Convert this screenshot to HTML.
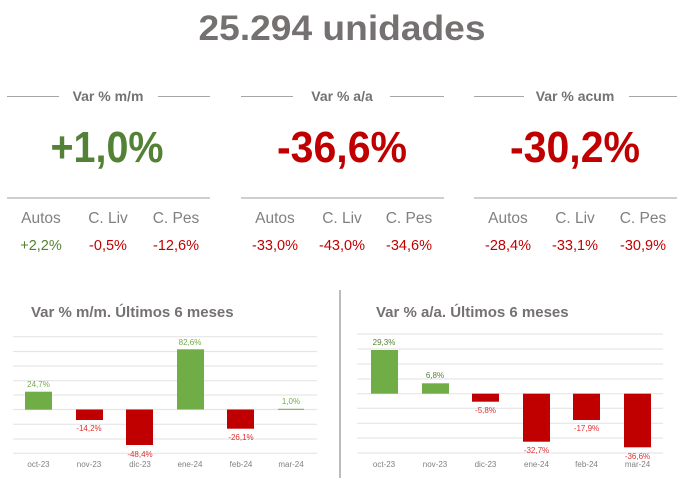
<!DOCTYPE html>
<html><head><meta charset="utf-8"><style>
html,body{margin:0;padding:0;background:#fff;width:682px;height:491px;overflow:hidden}
text{font-family:"Liberation Sans",Arial,sans-serif}
</style></head><body>
<svg width="682" height="491" viewBox="0 0 682 491" xmlns="http://www.w3.org/2000/svg">
<text x="342" y="40" text-anchor="middle" font-size="35" font-weight="bold" fill="#757171" textLength="287" lengthAdjust="spacingAndGlyphs">25.294  unidades</text>

<g stroke="#a6a6a6" stroke-width="1">
<line x1="7" y1="96.5" x2="59" y2="96.5"/><line x1="158" y1="96.5" x2="210" y2="96.5"/>
<line x1="241" y1="96.5" x2="293" y2="96.5"/><line x1="390" y1="96.5" x2="444" y2="96.5"/>
<line x1="474" y1="96.5" x2="524" y2="96.5"/><line x1="629" y1="96.5" x2="677" y2="96.5"/>
</g>
<g stroke="#bfbfbf" stroke-width="1.5">
<line x1="7" y1="198" x2="210" y2="198"/><line x1="241" y1="198" x2="444" y2="198"/><line x1="474" y1="198" x2="677" y2="198"/>
</g>
<g font-size="14" font-weight="bold" fill="#757171" text-anchor="middle">
<text x="108" y="101">Var % m/m</text><text x="342" y="101">Var % a/a</text><text x="575" y="101">Var % acum</text>
</g>
<g font-size="44" font-weight="bold" text-anchor="middle">
<text x="107" y="162" fill="#538135" textLength="113" lengthAdjust="spacingAndGlyphs">+1,0%</text>
<text x="342" y="162" fill="#c00000" textLength="130" lengthAdjust="spacingAndGlyphs">-36,6%</text>
<text x="575" y="162" fill="#c00000" textLength="130" lengthAdjust="spacingAndGlyphs">-30,2%</text>
</g>
<g font-size="15.5" fill="#808080" text-anchor="middle">
<text x="41" y="223">Autos</text><text x="108" y="223">C. Liv</text><text x="176" y="223">C. Pes</text>
<text x="275" y="223">Autos</text><text x="342" y="223">C. Liv</text><text x="409" y="223">C. Pes</text>
<text x="508" y="223">Autos</text><text x="575" y="223">C. Liv</text><text x="643" y="223">C. Pes</text>
</g>
<g font-size="14.5" text-anchor="middle" fill="#c00000">
<text x="41" y="250" fill="#538135">+2,2%</text><text x="108" y="250">-0,5%</text><text x="176" y="250">-12,6%</text>
<text x="275" y="250">-33,0%</text><text x="342" y="250">-43,0%</text><text x="409" y="250">-34,6%</text>
<text x="508" y="250">-28,4%</text><text x="575" y="250">-33,1%</text><text x="643" y="250">-30,9%</text>
</g>

<line x1="340" y1="290" x2="340" y2="478" stroke="#a6a6a6" stroke-width="1.5"/>

<!-- left chart -->
<text x="31" y="317" font-size="15" font-weight="bold" fill="#757171">Var % m/m. Últimos 6 meses</text>
<g stroke="#e6e6e6" stroke-width="1.2">
<line x1="13" y1="336.7" x2="317" y2="336.7"/><line x1="13" y1="351.5" x2="317" y2="351.5"/>
<line x1="13" y1="366" x2="317" y2="366"/><line x1="13" y1="380.7" x2="317" y2="380.7"/>
<line x1="13" y1="395" x2="317" y2="395"/><line x1="13" y1="409.5" x2="317" y2="409.5"/>
<line x1="13" y1="424.3" x2="317" y2="424.3"/><line x1="13" y1="439" x2="317" y2="439"/>
<line x1="13" y1="453.3" x2="317" y2="453.3"/>
</g>
<rect x="25" y="391.7" width="27" height="18" fill="#70ad47"/>
<rect x="76" y="409.5" width="27" height="10.5" fill="#c00000"/>
<rect x="126" y="409.5" width="27" height="35.5" fill="#c00000"/>
<rect x="177" y="349.3" width="27" height="60.2" fill="#70ad47"/>
<rect x="227" y="409.5" width="27" height="19.2" fill="#c00000"/>
<rect x="278" y="408.8" width="26" height="1" fill="#70ad47"/>
<g font-size="8" text-anchor="middle">
<text x="38.5" y="387" fill="#70ad47">24,7%</text>
<text x="89" y="431" fill="#e03030">-14,2%</text>
<text x="140" y="457" fill="#e03030">-48,4%</text>
<text x="190" y="345" fill="#70ad47">82,6%</text>
<text x="241" y="440" fill="#e03030">-26,1%</text>
<text x="291" y="404" fill="#70ad47">1,0%</text>
</g>
<g font-size="8" fill="#808080" text-anchor="middle">
<text x="38.5" y="467">oct-23</text><text x="89" y="467">nov-23</text><text x="140" y="467">dic-23</text>
<text x="190" y="467">ene-24</text><text x="241" y="467">feb-24</text><text x="291" y="467">mar-24</text>
</g>

<!-- right chart -->
<text x="376" y="317" font-size="15" font-weight="bold" fill="#757171">Var % a/a. Últimos 6 meses</text>
<g stroke="#e6e6e6" stroke-width="1.2">
<line x1="357" y1="334" x2="663" y2="334"/><line x1="357" y1="349" x2="663" y2="349"/>
<line x1="357" y1="364" x2="663" y2="364"/><line x1="357" y1="379" x2="663" y2="379"/>
<line x1="357" y1="393.7" x2="663" y2="393.7"/><line x1="357" y1="408.3" x2="663" y2="408.3"/>
<line x1="357" y1="423.3" x2="663" y2="423.3"/><line x1="357" y1="438" x2="663" y2="438"/>
<line x1="357" y1="453" x2="663" y2="453"/>
</g>
<rect x="371" y="350" width="27" height="43.7" fill="#70ad47"/>
<rect x="422" y="383.3" width="27" height="10.4" fill="#70ad47"/>
<rect x="472" y="393.7" width="27" height="8" fill="#c00000"/>
<rect x="523" y="393.7" width="27" height="48" fill="#c00000"/>
<rect x="573" y="393.7" width="27" height="26.3" fill="#c00000"/>
<rect x="624" y="393.7" width="27" height="53.6" fill="#c00000"/>
<g font-size="8" text-anchor="middle">
<text x="384" y="345" fill="#548235">29,3%</text>
<text x="435" y="378" fill="#548235">6,8%</text>
<text x="485.5" y="413" fill="#e03030">-5,8%</text>
<text x="536.5" y="453" fill="#e03030">-32,7%</text>
<text x="586.5" y="431" fill="#e03030">-17,9%</text>
<text x="637.5" y="459" fill="#e03030">-36,6%</text>
</g>
<g font-size="8" fill="#808080" text-anchor="middle">
<text x="384" y="467">oct-23</text><text x="435" y="467">nov-23</text><text x="485.5" y="467">dic-23</text>
<text x="536.5" y="467">ene-24</text><text x="586.5" y="467">feb-24</text><text x="637.5" y="467">mar-24</text>
</g>
</svg>
</body></html>
